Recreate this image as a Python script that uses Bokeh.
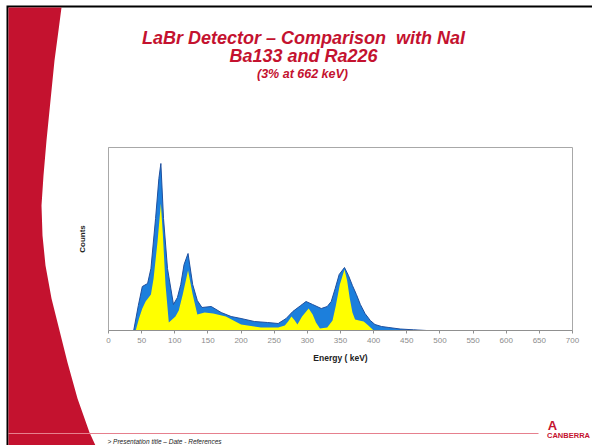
from bokeh.plotting import figure
from bokeh.models import Range1d, FixedTicker
from bokeh.core.properties import value
from bokeh.embed import file_html
from bokeh.resources import INLINE

# ---- data (counts in arbitrary units) ----
energy_nai = [38, 45, 51, 59, 64, 71, 76, 79, 83, 89, 98, 104, 109, 114, 120, 127, 134,
              141, 155, 170, 185, 200, 220, 240, 256, 268, 278, 290, 298, 308, 321, 330,
              336, 342, 348, 356, 362, 368, 374, 380, 387, 395, 402, 412, 423, 440, 460, 480]
counts_nai = [0, 25, 44, 47, 62, 112, 152, 167, 112, 62, 26, 33, 46, 66, 77, 46, 30,
              23, 24, 18, 14, 12, 9, 8, 7, 12, 19, 25, 29, 26, 22, 24,
              29, 42, 56, 63, 55, 45, 36, 26, 17, 10, 6, 4, 3, 1.5, 0.7, 0]

energy_labr = [41, 46, 51, 56, 64, 68, 74, 79, 82, 86, 91, 101, 106, 112, 120, 127, 134,
               145, 158, 177, 200, 230, 256, 266, 271, 276, 281, 285, 292, 302, 308, 313,
               319, 330, 338, 343, 349, 356, 360, 364, 368, 372, 378, 385, 392, 400]
counts_labr = [0, 12, 22, 29, 36, 52, 89, 127, 96, 46, 8, 14, 20, 36, 60, 36, 16,
               18, 17, 14, 6, 3, 3, 5, 9, 14, 10, 6, 14, 22, 16, 8,
               2, 3, 10, 25, 46, 61, 50, 32, 18, 11, 10, 9, 5, 0]

x_ticks = list(range(0, 701, 50))

title_main = ["LaBr Detector \u2013 Comparison \u00a0with NaI", "Ba133 and Ra226"]
title_sub = "(3% at 662 keV)"
x_label = "Energy ( keV)"
y_label = "Counts"
footer_text = "> Presentation title \u2013 Date - References"
logo_text = "CANBERRA"

RED = "#C4122F"
FONT = "Liberation Sans"
W, H = 592, 445

# ---------------- slide background (pixel coordinates, y downward) ----------------
bg = figure(width=W, height=H, x_range=Range1d(0, W), y_range=Range1d(H, 0),
            output_backend="svg", toolbar_location=None, x_axis_type=None, y_axis_type=None,
            min_border=0)
bg.title.visible = False
bg.outline_line_color = None
bg.xgrid.visible = False
bg.ygrid.visible = False
bg.background_fill_color = "white"
bg.border_fill_color = "white"

# black slide edge (top, left)
bg.patch(x=[6, W, W, 8, 8, 6], y=[5, 5, 7, 7, H, H], fill_color="black", line_color=None)
# red swoosh
sw_x = [8, 61, 58, 54, 50, 46, 43, 41, 42, 45, 51, 59, 67, 77, 89, 95, 8]
sw_y = [7, 7, 30, 60, 100, 140, 175, 205, 235, 265, 298, 330, 362, 398, 432, 445, 445]
bg.patch(x=sw_x, y=sw_y, fill_color=RED, line_color=None)
# footer rule
bg.line(x=[8, 538], y=[433, 433], line_color="#E6808E", line_width=1.2)

bg.text(x=[303, 303], y=[37, 55], text=title_main,
        text_align="center", text_baseline="middle", text_font=value(FONT),
        text_font_style="bold italic", text_font_size=value("18px"), text_color=RED)
bg.text(x=[302], y=[73], text=[title_sub],
        text_align="center", text_baseline="middle", text_font=value(FONT),
        text_font_style="bold italic", text_font_size=value("12.5px"), text_color=RED)

bg.text(x=[107], y=[441], text=[footer_text], text_align="left", text_baseline="middle",
        text_font=value(FONT), text_font_style="italic", text_font_size=value("6.5px"),
        text_color="#222222")
bg.text(x=[552], y=[425], text=["A"], text_align="center", text_baseline="middle",
        text_font=value(FONT), text_font_style="bold", text_font_size=value("13px"),
        text_color=RED)
bg.text(x=[568], y=[435], text=[logo_text], text_align="center", text_baseline="middle",
        text_font=value(FONT), text_font_style="bold", text_font_size=value("7.5px"),
        text_color=RED)

# ---------------- chart (separate root, overlaid, transparent) ----------------
p = figure(width=W, height=H, x_range=Range1d(0, 700), y_range=Range1d(0, 183),
           output_backend="svg", toolbar_location=None,
           min_border_left=108, min_border_right=20, min_border_top=147, min_border_bottom=115,
           margin=(-H, 0, 0, 0))
p.title.visible = False
p.background_fill_alpha = 0
p.border_fill_alpha = 0
p.outline_line_color = "#A8A8A8"
p.xgrid.visible = False
p.ygrid.visible = False

p.varea(x=energy_nai, y1=0, y2=counts_nai, fill_color="#1C7FDC")
p.line(x=energy_nai, y=counts_nai, line_color="#1F4F9E", line_width=1)
p.varea(x=energy_labr, y1=0, y2=counts_labr, fill_color="#FFFF00")

xa = p.xaxis[0]
xa.ticker = FixedTicker(ticks=x_ticks, minor_ticks=[])
xa.axis_line_color = "#909090"
xa.major_tick_line_color = "#909090"
xa.major_tick_out = 3
xa.major_tick_in = 0
xa.minor_tick_line_color = None
xa.major_label_text_font = FONT
xa.major_label_text_font_size = "8px"
xa.major_label_text_color = "#8C8C8C"
xa.major_label_standoff = 4
xa.axis_label = x_label
xa.axis_label_text_font = FONT
xa.axis_label_text_font_style = "bold"
xa.axis_label_text_font_size = "8.5px"
xa.axis_label_text_color = "#222222"
xa.axis_label_standoff = 7

ya = p.yaxis[0]
ya.ticker = FixedTicker(ticks=[])
ya.axis_line_color = "#A8A8A8"
ya.major_tick_line_color = None
ya.minor_tick_line_color = None
ya.major_label_text_font_size = "0px"
ya.axis_label = y_label
ya.axis_label_text_font = FONT
ya.axis_label_text_font_style = "bold"
ya.axis_label_text_font_size = "8px"
ya.axis_label_text_color = "#222222"
ya.axis_label_standoff = 22

open("out.html", "w").write(file_html([bg, p], INLINE))
